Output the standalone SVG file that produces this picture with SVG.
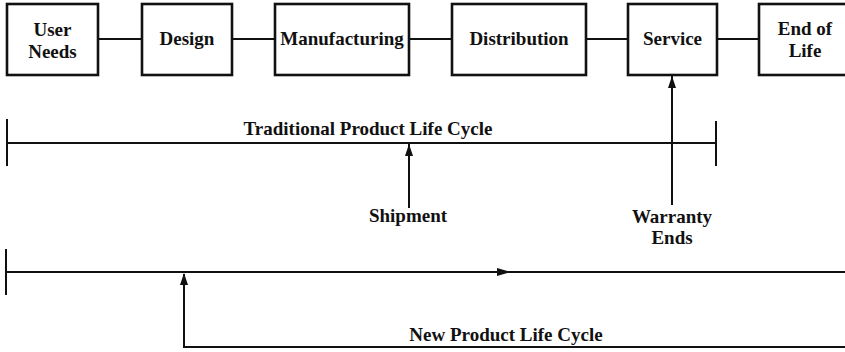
<svg xmlns="http://www.w3.org/2000/svg" width="845" height="352" viewBox="0 0 845 352">
<style>
.box{fill:#fff;stroke:#111;stroke-width:2.6}
.ln{fill:none;stroke:#111;stroke-width:2}
text{font-family:"Liberation Serif","Times New Roman",serif;font-weight:bold;font-size:19px;fill:#111;text-anchor:middle}
</style>
<defs>
<marker id="ah" viewBox="0 0 12 8" refX="12" refY="4" markerWidth="12" markerHeight="8" markerUnits="userSpaceOnUse" orient="auto">
<path d="M0,0 L12,4 L0,8 Z" fill="#111"/>
</marker>
</defs>
<rect width="845" height="352" fill="#fff"/>
<g id="connectors">
<line class="ln" x1="98" y1="39" x2="142" y2="39"/>
<line class="ln" x1="232" y1="39" x2="275" y2="39"/>
<line class="ln" x1="409" y1="39" x2="452" y2="39"/>
<line class="ln" x1="586" y1="39" x2="628" y2="39"/>
<line class="ln" x1="717" y1="39" x2="759" y2="39"/>
<line class="ln" x1="672" y1="205" x2="672" y2="76" marker-end="url(#ah)"/>
</g>
<g id="node-user-needs"><rect class="box" x="7" y="4" width="91" height="71"/><text x="52.5" y="36">User</text><text x="52.5" y="57.5">Needs</text></g>
<g id="node-design"><rect class="box" x="142" y="4" width="90" height="71"/><text x="187" y="45">Design</text></g>
<g id="node-manufacturing"><rect class="box" x="275" y="4" width="134" height="71"/><text x="342" y="45">Manufacturing</text></g>
<g id="node-distribution"><rect class="box" x="452" y="4" width="134" height="71"/><text x="519" y="45">Distribution</text></g>
<g id="node-service"><rect class="box" x="628" y="4" width="89" height="71"/><text x="672.5" y="45">Service</text></g>
<g id="node-end-of-life"><rect class="box" x="759" y="4" width="92" height="71"/><text x="805" y="35">End of</text><text x="805" y="57">Life</text></g>
<g id="traditional">
<line class="ln" x1="7" y1="143" x2="716" y2="143"/>
<line class="ln" x1="7" y1="119" x2="7" y2="166"/>
<line class="ln" x1="716" y1="121" x2="716" y2="166"/>
<text x="368" y="135">Traditional Product Life Cycle</text>
<line class="ln" x1="409" y1="208" x2="409" y2="144" marker-end="url(#ah)"/>
<text x="408" y="222">Shipment</text>
<text x="672" y="223">Warranty</text>
<text x="672" y="244">Ends</text>
</g>
<g id="new">
<line class="ln" x1="6" y1="272" x2="845" y2="272"/>
<line class="ln" x1="6" y1="249" x2="6" y2="295"/>
<path d="M497,268 L511,272 L497,276 Z" fill="#111"/>
<polyline class="ln" points="845,347 184,347 184,274"/>
<path d="M180,285 L184,273 L188,285 Z" fill="#111"/>
<text x="506" y="341">New Product Life Cycle</text>
</g>
</svg>
